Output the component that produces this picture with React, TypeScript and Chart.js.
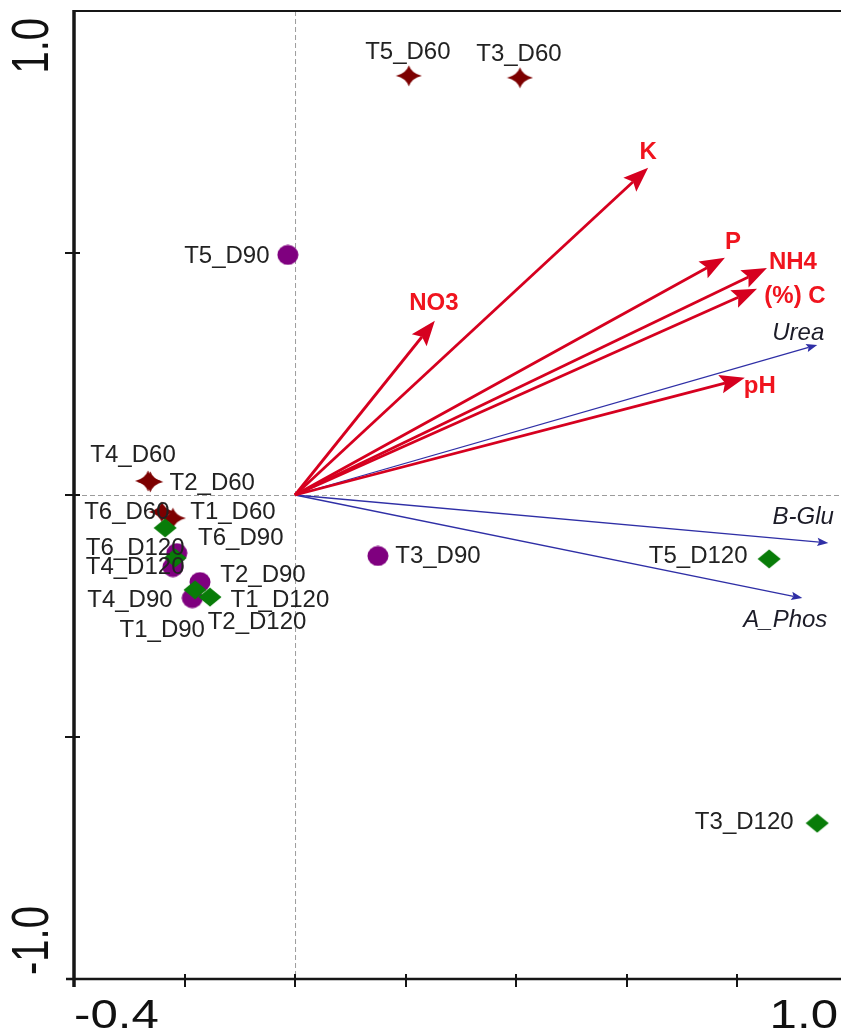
import React, { useEffect, useRef } from "react";
import { Chart, registerables } from "chart.js";

Chart.register(...registerables);

// ---- Site scores (axis 1 = x, axis 2 = y), grouped by sampling day ----
const d60Names = ["T1_D60", "T2_D60", "T3_D60", "T4_D60", "T5_D60", "T6_D60"];
const d60X = [-0.221, -0.262, 0.407, -0.266, 0.206, -0.241];
const d60Y = [-0.048, 0.027, 0.862, 0.029, 0.866, -0.035];

const d90Names = ["T1_D90", "T2_D90", "T3_D90", "T4_D90", "T5_D90", "T6_D90"];
const d90X = [-0.186, -0.172, 0.15, -0.221, -0.013, -0.214];
const d90Y = [-0.213, -0.18, -0.126, -0.149, 0.496, -0.12];

const d120Names = ["T1_D120", "T2_D120", "T3_D120", "T4_D120", "T5_D120", "T6_D120"];
const d120X = [-0.154, -0.181, 0.945, -0.217, 0.858, -0.235];
const d120Y = [-0.211, -0.196, -0.678, -0.13, -0.132, -0.068];

// ---- Soil property vectors ----
const soilNames = ["NO3", "K", "P", "NH4", "(%) C", "pH"];
const soilX = [0.253, 0.639, 0.778, 0.854, 0.836, 0.814];
const soilY = [0.36, 0.676, 0.49, 0.469, 0.426, 0.242];

// ---- Enzyme activity vectors ----
const enzNames = ["Urea", "B-Glu", "A_Phos"];
const enzX = [0.945, 0.965, 0.918];
const enzY = [0.31, -0.099, -0.213];

// ---- Axis ticks ----
const xTickValues = [-0.2, 0, 0.2, 0.4, 0.6, 0.8];
const yTickValues = [0.5, 0, -0.5];
const xTickLabels = ["-0.4", "1.0"];
const yTickLabels = ["1.0", "-1.0"];

// Label placement (pixel offsets of the label centre from its mark)
const d60LabelDx = [60, 62, -1, -15, -1, -35];
const d60LabelDy = [-6, 1, -23, -26, -23, 0];
const d90LabelDx = [-30, 63, 60, -43, -61, 64];
const d90LabelDy = [32, -7, 0, 33, 1, -15];
const d120LabelDx = [70, 62, -73, -40, -71, -30];
const d120LabelDy = [3, 33, -1, 9, -3, 20];
const soilLabelDx = [-1, 0, 8, 26, 38, 15];
const soilLabelDy = [-17, -15, -15, -6, 8, 9];
const enzLabelDx = [-19, -25, -17];
const enzLabelDy = [-12, -26, 22];

const FONT = "Arial, 'Liberation Sans', Helvetica, sans-serif";

function makeMarker(kind: "star" | "circle" | "diamond", color: string): HTMLCanvasElement {
  const c = document.createElement("canvas");
  const w = kind === "star" ? 27 : kind === "diamond" ? 24 : 22;
  const h = kind === "star" ? 22 : kind === "diamond" ? 20 : 21;
  c.width = w;
  c.height = h;
  const g = c.getContext("2d")!;
  g.fillStyle = color;
  const cx = w / 2;
  const cy = h / 2;
  const rx = w / 2 - 0.5;
  const ry = h / 2 - 0.5;
  g.beginPath();
  if (kind === "star") {
    const k = 0.22;
    g.moveTo(cx, cy - ry);
    g.quadraticCurveTo(cx + rx * k, cy - ry * k, cx + rx, cy);
    g.quadraticCurveTo(cx + rx * k, cy + ry * k, cx, cy + ry);
    g.quadraticCurveTo(cx - rx * k, cy + ry * k, cx - rx, cy);
    g.quadraticCurveTo(cx - rx * k, cy - ry * k, cx, cy - ry);
  } else if (kind === "diamond") {
    g.moveTo(cx, cy - ry);
    g.lineTo(cx + rx, cy);
    g.lineTo(cx, cy + ry);
    g.lineTo(cx - rx, cy);
  } else {
    g.ellipse(cx, cy, rx, ry, 0, 0, Math.PI * 2);
  }
  g.closePath();
  g.fill();
  return c;
}

function drawArrow(
  ctx: CanvasRenderingContext2D,
  x0: number, y0: number, x1: number, y1: number,
  color: string, lw: number, headLen: number, headHalf: number
) {
  const a = Math.atan2(y1 - y0, x1 - x0);
  const cos = Math.cos(a);
  const sin = Math.sin(a);
  const bx = x1 - headLen * cos;
  const by = y1 - headLen * sin;
  const notch = headLen * 0.18;
  ctx.save();
  ctx.strokeStyle = color;
  ctx.fillStyle = color;
  ctx.lineWidth = lw;
  ctx.beginPath();
  ctx.moveTo(x0, y0);
  ctx.lineTo(bx + notch * cos, by + notch * sin);
  ctx.stroke();
  ctx.beginPath();
  ctx.moveTo(x1, y1);
  ctx.lineTo(bx - headHalf * sin, by + headHalf * cos);
  ctx.lineTo(bx + notch * cos, by + notch * sin);
  ctx.lineTo(bx + headHalf * sin, by - headHalf * cos);
  ctx.closePath();
  ctx.fill();
  ctx.restore();
}

function drawText(
  ctx: CanvasRenderingContext2D, text: string, x: number, y: number,
  font: string, color: string, align: CanvasTextAlign = "center", sx = 1
) {
  ctx.save();
  ctx.translate(x, y);
  ctx.scale(sx, 1);
  ctx.font = font;
  ctx.fillStyle = color;
  ctx.textAlign = align;
  ctx.textBaseline = "middle";
  ctx.fillText(text, 0, 0);
  ctx.restore();
}

const axesPlugin = {
  id: "biplotAxes",
  beforeDatasetsDraw(chart: any) {
    const ctx: CanvasRenderingContext2D = chart.ctx;
    const xs = chart.scales.x;
    const ys = chart.scales.y;
    const left = xs.getPixelForValue(-0.4);
    const right = chart.width;
    const top = ys.getPixelForValue(1);
    const bottom = ys.getPixelForValue(-1);
    const x0 = xs.getPixelForValue(0);
    const y0 = ys.getPixelForValue(0);

    ctx.save();
    // zero lines
    ctx.strokeStyle = "#9c9c9c";
    ctx.lineWidth = 1;
    ctx.setLineDash([5, 3]);
    ctx.beginPath();
    ctx.moveTo(x0 + 0.5, top);
    ctx.lineTo(x0 + 0.5, bottom);
    ctx.moveTo(left, y0 + 0.5);
    ctx.lineTo(right, y0 + 0.5);
    ctx.stroke();
    ctx.setLineDash([]);

    ctx.strokeStyle = "#161616";
    // top frame
    ctx.lineWidth = 2;
    ctx.beginPath();
    ctx.moveTo(left, top);
    ctx.lineTo(right, top);
    ctx.stroke();
    // bottom axis
    ctx.lineWidth = 2.5;
    ctx.beginPath();
    ctx.moveTo(left - 8, bottom);
    ctx.lineTo(right, bottom);
    ctx.stroke();
    // left axis
    ctx.lineWidth = 3.5;
    ctx.beginPath();
    ctx.moveTo(left, top - 1);
    ctx.lineTo(left, bottom + 8);
    ctx.stroke();
    // ticks
    ctx.lineWidth = 2;
    ctx.beginPath();
    xTickValues.forEach((v) => {
      const px = Math.round(xs.getPixelForValue(v));
      ctx.moveTo(px, bottom - 5);
      ctx.lineTo(px, bottom + 8);
    });
    yTickValues.forEach((v) => {
      const py = Math.round(ys.getPixelForValue(v));
      ctx.moveTo(left - 9, py);
      ctx.lineTo(left + 6, py);
    });
    ctx.stroke();
    ctx.restore();

    // tick labels
    const tickFont = `41px ${FONT}`;
    drawText(ctx, xTickLabels[0], left, bottom + 38, tickFont, "#111", "left", 1.2);
    drawText(ctx, xTickLabels[1], right - 3, bottom + 38, tickFont, "#111", "right", 1.2);
    [0, 1].forEach((i) => {
      ctx.save();
      ctx.translate(34, i === 0 ? top + 7 : bottom - 4);
      ctx.scale(1.3, 1);
      ctx.rotate(-Math.PI / 2);
      ctx.font = `40px ${FONT}`;
      ctx.fillStyle = "#111";
      ctx.textAlign = i === 0 ? "right" : "left";
      ctx.textBaseline = "middle";
      ctx.fillText(yTickLabels[i], 0, 0);
      ctx.restore();
    });

    // vectors
    enzNames.forEach((_, i) => {
      drawArrow(ctx, x0, y0, xs.getPixelForValue(enzX[i]), ys.getPixelForValue(enzY[i]),
        "#2f2fa6", 1.3, 11, 4.2);
    });
    soilNames.forEach((_, i) => {
      drawArrow(ctx, x0, y0, xs.getPixelForValue(soilX[i]), ys.getPixelForValue(soilY[i]),
        "#d6001f", 2.8, 25, 9.5);
    });
  },
  afterDatasetsDraw(chart: any) {
    const ctx: CanvasRenderingContext2D = chart.ctx;
    const xs = chart.scales.x;
    const ys = chart.scales.y;
    const siteFont = `24px ${FONT}`;
    const groups = [
      { n: d60Names, x: d60X, y: d60Y, dx: d60LabelDx, dy: d60LabelDy },
      { n: d90Names, x: d90X, y: d90Y, dx: d90LabelDx, dy: d90LabelDy },
      { n: d120Names, x: d120X, y: d120Y, dx: d120LabelDx, dy: d120LabelDy },
    ];
    groups.forEach((g) => {
      g.n.forEach((name, i) => {
        drawText(ctx, name, xs.getPixelForValue(g.x[i]) + g.dx[i],
          ys.getPixelForValue(g.y[i]) + g.dy[i], siteFont, "#222");
      });
    });
    soilNames.forEach((name, i) => {
      drawText(ctx, name, xs.getPixelForValue(soilX[i]) + soilLabelDx[i],
        ys.getPixelForValue(soilY[i]) + soilLabelDy[i], `bold 24px ${FONT}`, "#f0141e");
    });
    enzNames.forEach((name, i) => {
      drawText(ctx, name, xs.getPixelForValue(enzX[i]) + enzLabelDx[i],
        ys.getPixelForValue(enzY[i]) + enzLabelDy[i], `italic 24px ${FONT}`, "#1c1c28");
    });
  },
};

export default function App() {
  const ref = useRef<HTMLCanvasElement>(null);

  useEffect(() => {
    document.body.style.margin = "0";
    document.body.style.overflow = "hidden";
    const toPts = (xs: number[], ys: number[]) => xs.map((x, i) => ({ x, y: ys[i] }));
    const chart = new Chart(ref.current!, {
      type: "scatter",
      data: {
        datasets: [
          {
            label: "D60",
            data: toPts(d60X, d60Y),
            pointStyle: makeMarker("star", "#7d0000") as any,
            pointRadius: 10,
            order: 1,
          },
          {
            label: "D90",
            data: toPts(d90X, d90Y),
            pointStyle: makeMarker("circle", "#7f007f") as any,
            pointRadius: 10,
            order: 2,
          },
          {
            label: "D120",
            data: toPts(d120X, d120Y),
            pointStyle: makeMarker("diamond", "#087c08") as any,
            pointRadius: 10,
            order: 0,
          },
        ],
      },
      options: {
        responsive: false,
        animation: false,
        events: [],
        layout: { autoPadding: false, padding: { left: 74, top: 11, right: 0, bottom: 55 } },
        plugins: { legend: { display: false }, tooltip: { enabled: false } },
        scales: {
          x: { type: "linear", min: -0.4, max: 0.988, display: false },
          y: { type: "linear", min: -1, max: 1, display: false },
        },
      },
      plugins: [axesPlugin],
    });
    return () => chart.destroy();
  }, []);

  return (
    <canvas
      ref={ref}
      width={841}
      height={1034}
      style={{ display: "block", width: 841, height: 1034, background: "#fff" }}
    />
  );
}
